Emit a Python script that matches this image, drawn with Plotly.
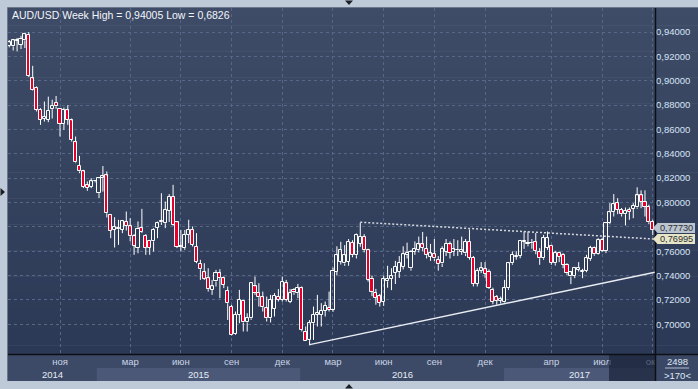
import plotly.graph_objects as go
import pandas as pd

# ---------------- data (weekly AUD/USD) ----------------
week_start = "2014-07-28"
opens = [.9288,.9283,.9328,.9296,.9332,.9379,.9020,.8940,.8760,.8690,
         .8680,.8767,.8820,.8770,.8645,.8759,.8674,.8496,.8304,.8255,
         .8142,.8131,.8175,.8077,.8200,.8222,.7898,.7775,.7780,.7775,
         .7843,.7803,.7728,.7630,.7789,.7728,.7685,.7680,.7794,.7838,
         .7830,.7930,.8044,.7836,.7638,.7625,.7734,.7775,.7638,.7496,
         .7427,.7378,.7282,.7351,.7419,.7378,.7274,.7145,.6918,.7077,
         .7192,.7014,.7049,.7310,.7260,.7222,.7131,.7049,.7126,.7227,
         .7200,.7337,.7186,.7282,.7255,.7296,.6940,.6869,.7008,.7077,
         .7077,.7112,.7137,.7120,.7430,.7512,.7499,.7512,.7671,.7567,
         .7663,.7718,.7608,.7375,.7257,.7230,.7184,.7353,.7375,.7422,
         .7430,.7471,.7567,.7460,.7594,.7608,.7655,.7622,.7556,.7575,
         .7531,.7499,.7594,.7655,.7594,.7606,.7594,.7581,.7677,.7548,
         .7334,.7438,.7452,.7430,.7282,.7227,.7192,.7186,.7296,.7501,
         .7556,.7562,.7679,.7657,.7666,.7679,.7592,.7542,.7630,.7644,
         .7501,.7584,.7570,.7488,.7392,.7397,.7447,.7433,.7441,.7537,
         .7630,.7575,.7693,.7603,.7830,.7921,.7995,.7940,.7904,.7940,
         .7948,.7959,.8058,.8003,.7967,.7843]
highs = [.9335,.9344,.9352,.9370,.9395,.94005,.9123,.8954,.8775,.8830,
         .8870,.8845,.8875,.8775,.8780,.8800,.8690,.8542,.8383,.8268,
         .8173,.8200,.8180,.8208,.8300,.8255,.7904,.7879,.7857,.7857,
         .7926,.7871,.7740,.7844,.7948,.7740,.7693,.7789,.7843,.8076,
         .8008,.8070,.8145,.7844,.7775,.7775,.7858,.7803,.7748,.7529,
         .7501,.7460,.7364,.7446,.7452,.7392,.7310,.7159,.7104,.7282,
         .7200,.7090,.7342,.7392,.7337,.7268,.7227,.7241,.7255,.7288,
         .7392,.7364,.7288,.7296,.7331,.7310,.6981,.7035,.7145,.7241,
         .7173,.7186,.7268,.7465,.7640,.7677,.7650,.7700,.7690,.7745,
         .7835,.7740,.7620,.7400,.7290,.7250,.7400,.7480,.7460,.7520,
         .7560,.7640,.7670,.7610,.7680,.7720,.7758,.7720,.7660,.7700,
         .7560,.7640,.7700,.7680,.7700,.7690,.7720,.7700,.7778,.7560,
         .7460,.7510,.7510,.7450,.7300,.7240,.7227,.7364,.7510,.7597,
         .7600,.7693,.7762,.7762,.7700,.7749,.7625,.7734,.7762,.7652,
         .7603,.7597,.7584,.7501,.7438,.7471,.7510,.7455,.7570,.7644,
         .7638,.7707,.7707,.7836,.7995,.8069,.8036,.7955,.7959,.7959,
         .7995,.8125,.8100,.8100,.7981,.7858]
lows = [.9275,.9249,.9242,.9261,.9269,.9030,.8920,.8748,.8638,.8665,
        .8660,.8690,.8770,.8542,.8597,.8638,.8500,.8323,.8241,.8118,
        .8096,.8118,.8165,.8036,.8090,.7877,.7707,.7630,.7652,.7748,
        .7770,.7680,.7570,.7583,.7748,.7570,.7570,.7597,.7707,.7816,
        .7789,.7840,.7810,.7625,.7597,.7611,.7666,.7638,.7501,.7364,
        .7364,.7268,.7241,.7310,.7214,.7296,.7035,.6907,.6912,.7008,
        .6940,.6940,.7035,.7241,.7145,.7104,.7022,.7014,.7063,.7186,
        .7186,.7186,.7173,.7241,.7214,.6940,.6863,.6826,.6871,.6981,
        .6981,.7063,.7104,.7101,.7400,.7490,.7480,.7480,.7550,.7540,
        .7636,.7590,.7350,.7230,.7160,.7145,.7150,.7300,.7280,.7330,
        .7380,.7450,.7540,.7440,.7570,.7590,.7600,.7540,.7520,.7520,
        .7440,.7470,.7560,.7540,.7560,.7560,.7570,.7560,.7530,.7310,
        .7310,.7420,.7380,.7290,.7164,.7160,.7170,.7178,.7282,.7488,
        .7530,.7542,.7619,.7640,.7620,.7575,.7488,.7529,.7611,.7488,
        .7482,.7510,.7460,.7405,.7329,.7378,.7433,.7378,.7427,.7520,
        .7562,.7570,.7592,.7584,.7822,.7885,.7904,.7885,.7811,.7858,
        .7871,.7948,.7953,.7885,.7822,.7733]
closes = [.9315,.9332,.9333,.9344,.9385,.9041,.8926,.8760,.8680,.8705,
          .8753,.8795,.8790,.8644,.8762,.8680,.8515,.8329,.8255,.8131,
          .8123,.8173,.8178,.8205,.8214,.7912,.7767,.7797,.7789,.7846,
          .7808,.7721,.7646,.7784,.7756,.7630,.7630,.7775,.7830,.7849,
          .7938,.8045,.7816,.7638,.7645,.7734,.7775,.7652,.7515,.7452,
          .7373,.7288,.7310,.7419,.7378,.7323,.7173,.6912,.7077,.7200,
          .7014,.7049,.7337,.7255,.7222,.7140,.7049,.7200,.7233,.7200,
          .7345,.7200,.7255,.7262,.7296,.6953,.6866,.7008,.7077,.7090,
          .7110,.7150,.7120,.7438,.7567,.7608,.7567,.7677,.7567,.7732,
          .7718,.7608,.7367,.7266,.7219,.7175,.7375,.7375,.7394,.7471,
          .7504,.7575,.7586,.7594,.7622,.7655,.7630,.7567,.7581,.7540,
          .7493,.7622,.7663,.7586,.7614,.7610,.7608,.7677,.7548,.7334,
          .7436,.7458,.7416,.7301,.7186,.7192,.7205,.7296,.7501,.7570,
          .7562,.7685,.7685,.7668,.7668,.7603,.7542,.7712,.7707,.7507,
          .7584,.7556,.7488,.7419,.7425,.7460,.7460,.7441,.7542,.7630,
          .7575,.7693,.7603,.7830,.7918,.7986,.7940,.7904,.7932,.7921,
          .7975,.8058,.8003,.7967,.7838,.7773]
dates = pd.date_range(week_start, periods=len(closes), freq="7D")

# trend lines (start / end points)
support_x = ["2016-01-18", "2017-09-29"]
support_y = [0.6832, 0.7428]
resist_x = ["2016-04-18", "2017-09-29"]
resist_y = [0.7838, 0.76995]

# axis labels
y_ticks = [0.70, 0.72, 0.74, 0.76, 0.78, 0.80, 0.82, 0.84, 0.86, 0.88, 0.90, 0.92, 0.94]
y_hidden = [0.78]          # covered by the price tag in the reference
y_text = ["" if v in y_hidden else f"{v:.5f}".replace(".", ",") for v in y_ticks]
month_ticks = ["2014-10-27", "2015-03-02", "2015-06-01", "2015-08-31", "2015-11-30",
               "2016-02-29", "2016-05-30", "2016-08-29", "2016-11-28", "2017-03-27",
               "2017-06-26", "2017-09-25"]
month_text = ["ноя", "мар", "июн", "сен", "дек", "мар", "июн", "сен", "дек", "апр", "июл", "окт"]
year_text = ["2014", "2015", "2016", "2017"]
year_bounds = ["2014-07-25 16:00", "2015-01-01", "2016-01-01", "2017-01-01", "2017-09-29"]

title_text = "AUD/USD Week High = 0,94005 Low = 0,6826"
x_range = ["2014-07-25 16:00", "2017-09-29"]
y_range = [0.67551, 0.95982]

# ---------------- layout helpers ----------------
W, H = 698, 389
L, R, T, B = 8, 655, 8, 354
def px(x): return (x - L) / (R - L)
def py(y): return (B - y) / (B - T)
def ypix(v): return B - (v - y_range[0]) / (y_range[1] - y_range[0]) * (B - T)

FONT = "Liberation Sans"
FRAME = "#bfcad8"
UP_FILL, DOWN_FILL, EDGE = "rgba(0,0,0,0)", "#e4002b", "#ffffff"
shapes = []

def rect(x0, y0, x1, y1, color, layer="below", opacity=1):
    shapes.append(dict(type="rect", xref="paper", yref="paper", x0=px(x0), x1=px(x1),
                       y0=py(y0), y1=py(y1), fillcolor=color, line=dict(width=0),
                       layer=layer, opacity=opacity))

def line(x0, y0, x1, y1, color, w=1, layer="above"):
    shapes.append(dict(type="line", xref="paper", yref="paper", x0=px(x0), x1=px(x1),
                       y0=py(y0), y1=py(y1), line=dict(color=color, width=w), layer=layer))

def tri(points, color="#1b1e24"):
    path = "M " + " L ".join("%f %f" % (px(a), py(b)) for a, b in points) + " Z"
    shapes.append(dict(type="path", xref="paper", yref="paper", path=path,
                       fillcolor=color, line=dict(width=0), layer="above"))

def note(text, x, y, size=9.5, color="#dfe7f3", xanchor="center", family=FONT, xref="paper"):
    return dict(text=text, xref=xref, yref="paper", x=x, y=py(y), xanchor=xanchor,
                yanchor="middle", showarrow=False, font=dict(family=family, size=size, color=color))

# gradient background (plot + right panel)
top_c, bot_c = (62, 76, 103), (44, 57, 86)
N = 40
for k in range(N):
    y0 = T + (B - T) * k / N
    y1 = T + (B - T) * (k + 1) / N + 0.5
    t = (k + 0.5) / N
    c = tuple(round(top_c[j] + (bot_c[j] - top_c[j]) * t) for j in range(3))
    rect(L, y0, W, y1, "rgb(%d,%d,%d)" % c)

# bottom axis rows
rect(L, B, R, 381, "#3d4a67")
def xpix_date(d):
    d = pd.Timestamp(d)
    x0 = pd.Timestamp(x_range[0]); x1 = pd.Timestamp(x_range[1])
    return L + (d - x0) / (x1 - x0) * (R - L)
for k in (1, 3):
    rect(xpix_date(year_bounds[k]), 368, xpix_date(year_bounds[k + 1]), 381, "#4b5878")
rect(609, B, R, 381, "#141c30", layer="above", opacity=0.62)
rect(R, B, W, 381, "#3b4865", layer="above")

# frame lines
line(L, B + 0.5, W, B + 0.5, "#0c1016", 1.5)
line(R + 0.5, T, R + 0.5, 381, "#0c1016", 1.5)
line(L - 0.5, T - 0.5, W, T - 0.5, "#6b778a", 1)
line(L - 0.5, T - 0.5, L - 0.5, 381, "#6b778a", 1)
line(665, 368, 689, 368, "#aebbd0", 1)

# small frame arrows
tri([(345, 0.5), (353, 0.5), (349, 5)])
tri([(345, 388.5), (353, 388.5), (349, 384)])
tri([(0.5, 188), (0.5, 196), (5, 192)])

# price labels on the right
def tag(cy, color):
    top, bot = cy - 5, cy + 5
    path = "M %f %f L %f %f L %f %f L %f %f L %f %f Z" % (
        px(653), py(cy), px(657.5), py(top), px(695), py(top), px(695), py(bot), px(657.5), py(bot))
    shapes.append(dict(type="path", xref="paper", yref="paper", path=path,
                       fillcolor=color, line=dict(width=0), layer="above"))
c1 = ypix(closes[-1]) - 2
c2 = ypix(resist_y[-1])
tag(c1, "#bcc5cf")
tag(c2, "#e7e5c6")

annotations = [
    note(title_text, px(10), 14.5, size=10.5, color="#f2f5fa", xanchor="left"),
    note(f"{closes[-1]:.5f}".replace(".", ","), px(676), c1, size=9.2, color="#2a2d33"),
    note(f"{resist_y[-1]:.5f}".replace(".", ","), px(676), c2, size=9.2, color="#2a2d33"),
    note("2498", px(677), 361.5),
    note("&gt;170&lt;", px(677), 375),
]
for k, yt in enumerate(year_text):
    a = pd.Timestamp(year_bounds[k]); b = pd.Timestamp(year_bounds[k + 1])
    annotations.append(note(yt, a + (b - a) / 2, 374.5, color="#e6ecf5", xref="x"))

# ---------------- candles: bodies as bars, wicks as line segments ----------------
MIN_BODY = 0.0003
body_base = [min(o, c) for o, c in zip(opens, closes)]
body_len = [max(abs(c - o), MIN_BODY) for o, c in zip(opens, closes)]
body_col = [UP_FILL if c >= o else DOWN_FILL for o, c in zip(opens, closes)]
wx, wy = [], []
for d, o, h, l, c in zip(dates, opens, highs, lows, closes):
    top, bot = max(o, c), min(o, c)
    wx += [d, d, None, d, d, None]
    wy += [h, top, None, bot, l, None]

day_ms = 86400000
fig = go.Figure()
fig.add_trace(go.Scatter(x=wx, y=wy, mode="lines", line=dict(color=EDGE, width=1),
                         hoverinfo="skip", showlegend=False, connectgaps=False))
fig.add_trace(go.Bar(x=dates, y=body_len, base=body_base, width=5.6 * day_ms,
                     marker=dict(color=body_col, line=dict(color=EDGE, width=1)),
                     hoverinfo="skip", showlegend=False))
fig.add_trace(go.Scatter(x=support_x, y=support_y, mode="lines",
                         line=dict(color="#e9edf3", width=1.5), hoverinfo="skip", showlegend=False))
fig.add_trace(go.Scatter(x=resist_x, y=resist_y, mode="lines",
                         line=dict(color="#d4d8df", width=1.5, dash="2px,2px"),
                         hoverinfo="skip", showlegend=False))

fig.update_layout(
    width=W, height=H, margin=dict(l=L, r=W - R, t=T, b=H - B),
    paper_bgcolor=FRAME, plot_bgcolor="rgba(0,0,0,0)",
    shapes=shapes, annotations=annotations, bargap=0,
    xaxis=dict(type="date", range=x_range,
               tickmode="array", tickvals=month_ticks, ticktext=month_text,
               showgrid=True, gridcolor="#56678a", griddash="3px,3px", gridwidth=1,
               ticks="", showline=False, zeroline=False,
               tickfont=dict(family=FONT, size=9.5, color="#c9d4e6")),
    yaxis=dict(side="right", range=y_range, tickmode="array", tickvals=y_ticks, ticktext=y_text,
               showgrid=True, gridcolor="#56678a", griddash="3px,3px", gridwidth=1,
               ticks="", showline=False, zeroline=False,
               tickfont=dict(family=FONT, size=9.5, color="#d6e3f6")),
)
fig.write_html("out.html", config={"displayModeBar": False},
               post_script="document.body.style.margin='0';document.body.style.background='%s';" % FRAME)
